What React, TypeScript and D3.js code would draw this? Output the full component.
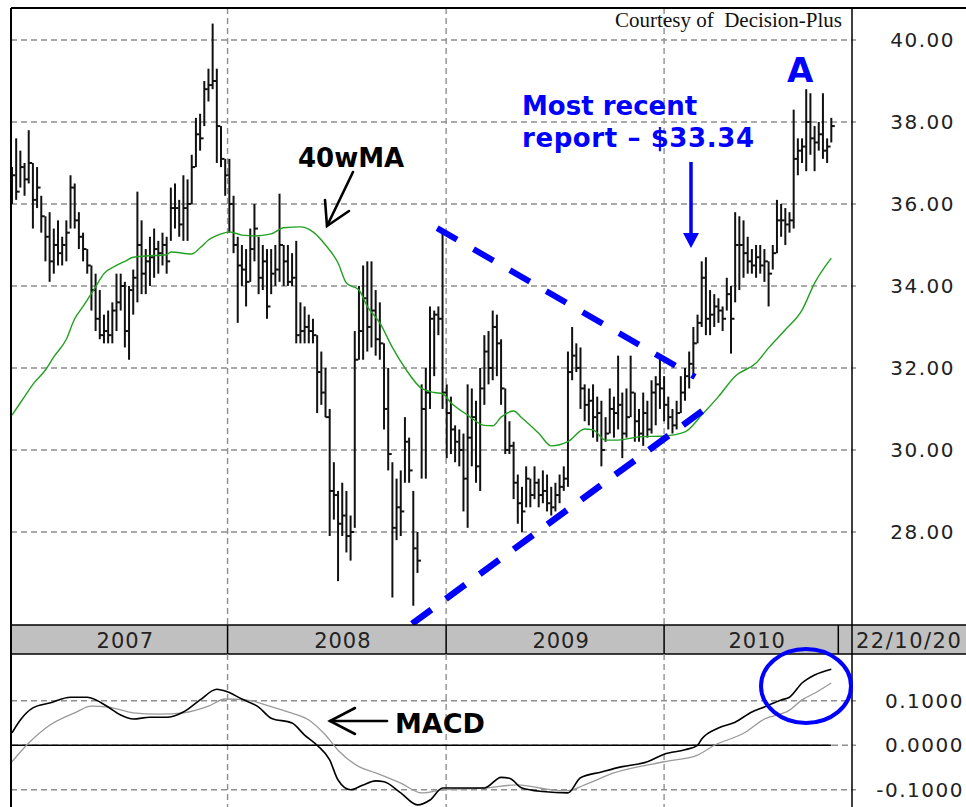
import React from 'react';
import * as d3 from 'd3';

// ---------- DATA ----------
const firstWeek = new Date(2007, 0, 5);
const highs = [
  36.9, 37.6, 37.3, 37.0, 37.8, 37.0, 36.9, 36.2, 35.7, 35.8,
  35.4, 35.6, 35.2, 35.6, 36.7, 36.5, 35.8, 35.3, 34.9, 34.5,
  34.3, 33.9, 33.3, 33.4, 33.6, 34.3, 34.3, 34.1, 34.0, 34.4,
  36.3, 35.6, 34.9, 35.2, 35.4, 35.1, 35.3, 35.2, 36.4, 36.5,
  36.1, 36.7, 36.6, 37.2, 38.1, 38.2, 39.0, 39.3, 40.4, 39.3,
  37.9, 37.1, 37.1, 36.2, 35.2, 35.0, 34.9, 35.4, 36.0, 35.2,
  35.0, 34.9, 34.9, 35.0, 36.25, 35.0, 35.0, 34.8, 35.1, 33.6,
  33.5, 33.3, 33.2, 32.8, 32.4, 32.0, 31.0, 29.7, 29.0, 29.2,
  29.0, 28.4, 32.9, 34.0, 34.5, 34.6, 34.6, 33.9, 33.6, 32.6,
  32.0, 29.7, 29.3, 29.5, 30.8, 30.3, 29.0, 28.0, 31.6, 32.0,
  33.5, 33.4, 33.5, 35.3, 31.6, 31.3, 30.6, 30.5, 30.4, 31.6,
  31.5, 31.2, 32.0, 32.8, 32.9, 33.4, 33.3, 32.7, 31.5, 30.7,
  30.2, 29.4, 29.1, 29.6, 29.3, 29.6, 29.3, 29.5, 29.4, 29.1,
  29.2, 29.4, 29.6, 32.4, 33.0, 32.6, 32.5, 31.6, 31.5, 31.6,
  31.3, 31.2, 30.8, 31.5, 31.3, 32.3, 31.4, 31.5, 32.3, 31.4,
  31.0, 31.4, 31.2, 31.7, 31.8, 32.3, 31.8, 31.3, 31.0, 31.2,
  31.8, 32.0, 32.4, 33.0, 33.3, 34.6, 34.7, 33.9, 33.8, 33.7,
  33.5, 34.2, 34.0, 35.8, 35.7, 35.6, 35.2, 34.9, 35.0, 35.0,
  34.9, 34.6, 35.0, 36.1, 36.0, 35.9, 35.8, 38.3, 37.6, 37.6,
  38.8, 38.7, 37.9, 38.0, 38.7, 37.6, 38.1,
];
const lows = [
  36.0, 36.1, 36.4, 36.2, 36.5, 35.4, 35.9, 35.3, 34.6, 34.1,
  34.3, 34.5, 34.5, 34.6, 35.4, 35.4, 34.9, 34.6, 34.3, 33.4,
  32.9, 32.7, 32.6, 32.6, 32.6, 32.9, 33.4, 32.5, 32.2, 33.3,
  33.6, 33.8, 33.8, 34.0, 34.2, 34.3, 34.5, 34.3, 35.1, 35.4,
  35.2, 35.1, 35.1, 36.0, 36.9, 37.3, 37.9, 38.5, 38.8, 37.0,
  36.9, 36.2, 35.3, 34.8, 33.1, 34.0, 33.5, 34.1, 34.6, 33.8,
  33.9, 33.2, 33.8, 34.0, 34.1, 34.0, 34.0, 34.0, 32.6, 32.6,
  32.6, 32.6, 32.6, 30.9, 31.1, 30.8, 27.9, 28.3, 26.8, 27.9,
  27.5, 27.3, 28.1, 32.2, 32.2, 32.4, 32.5, 32.3, 32.2, 30.5,
  29.5, 26.4, 27.8, 27.9, 29.2, 29.2, 26.2, 27.0, 29.3, 29.3,
  31.0, 31.8, 32.8, 31.0, 29.8, 29.9, 29.7, 29.6, 28.5, 28.1,
  29.6, 29.2, 29.0, 31.1, 31.6, 31.7, 31.8, 31.1, 29.9, 29.9,
  28.8, 28.2, 28.0, 28.6, 28.6, 28.8, 28.6, 28.7, 28.5, 28.4,
  28.5, 28.7, 29.0, 29.1, 31.7, 31.9, 31.0, 30.7, 30.6, 30.3,
  30.2, 29.6, 30.2, 30.4, 30.3, 30.5, 29.8, 30.3, 30.8, 30.2,
  30.2, 30.1, 30.3, 30.4, 30.6, 31.0, 30.7, 30.5, 30.4, 30.5,
  30.9, 31.2, 31.5, 31.8, 32.6, 33.0, 32.8, 32.8, 33.0, 33.1,
  32.9, 33.4, 32.35, 33.6, 33.9, 34.2, 34.3, 34.3, 34.2, 34.3,
  34.1, 33.5, 34.4, 34.8, 35.2, 35.0, 35.3, 35.4, 36.7, 37.0,
  36.8, 37.2, 36.8, 37.3, 37.1, 37.0, 37.5,
];
const closes = [
  36.7, 36.3, 36.9, 36.6, 37.0, 36.1, 36.4, 35.7, 35.2, 34.6,
  35.0, 34.8, 35.0, 35.3, 36.4, 35.6, 35.2, 34.9, 34.5, 33.9,
  33.2, 32.8, 32.9, 32.8, 33.4, 33.6, 34.0, 32.9, 33.9, 34.2,
  35.0, 34.3, 34.6, 34.7, 34.9, 34.8, 35.0, 34.6, 35.9, 35.9,
  35.5, 35.9, 36.0, 36.9, 37.7, 37.6, 38.8, 38.9, 39.0, 37.9,
  37.1, 36.7, 36.0, 35.0, 34.5, 34.4, 34.1, 34.9, 35.4, 34.2,
  34.6, 33.5, 34.3, 34.4, 35.0, 34.6, 34.1, 34.2, 32.8, 32.9,
  33.0, 32.9, 32.8, 31.9, 31.4, 30.8, 29.0, 28.9, 28.2, 28.4,
  27.9, 28.0, 32.2, 32.9, 33.7, 33.0, 33.4, 32.7, 32.6, 31.0,
  29.9, 28.1, 28.6, 28.5, 30.2, 29.5, 27.6, 27.3, 31.0, 31.4,
  33.2, 33.3, 33.2, 31.4, 30.9, 30.5, 30.2, 30.0, 29.3, 30.3,
  30.8, 29.6, 31.5, 32.4, 32.0, 33.0, 32.6, 31.5, 30.0, 30.1,
  29.2, 28.7, 28.5, 29.3, 28.9, 29.2, 28.9, 29.0, 28.7, 28.6,
  28.9, 29.1, 29.3, 31.9, 32.3, 32.0, 31.5, 31.1, 31.2, 30.8,
  30.9, 30.0, 30.4, 31.0, 30.9, 31.1, 30.4, 30.8, 31.4, 30.7,
  30.4, 30.9, 30.5, 31.4, 31.6, 31.5, 31.1, 30.8, 30.6, 30.9,
  31.4, 31.8, 32.1, 32.6, 33.1, 34.2, 33.2, 33.3, 33.5, 33.4,
  33.2, 33.8, 33.2, 35.0, 35.0, 34.8, 34.6, 34.5, 34.7, 34.5,
  34.6, 34.3, 34.8, 35.6, 35.6, 35.5, 35.6, 37.1, 37.3, 37.4,
  38.0, 37.6, 37.5, 37.7, 37.3, 37.4, 37.9,
];

// 40-week moving average, read at these week indices
const maWeeks = [0, 3, 5, 8, 10, 13, 15, 17, 20, 22, 25, 27, 29, 32, 37, 38, 43, 45, 47, 50,
  52, 55, 58, 62, 65, 69, 72, 75, 78, 80, 83, 85, 88, 91, 94, 98, 101, 103, 105, 109,
  113, 115, 117, 120, 122, 126, 129, 133, 137, 139, 142, 145, 150, 156, 161, 165, 169, 173, 178, 181,
  185, 189, 192, 196];
const maValues = [30.85, 31.3, 31.6, 31.95, 32.27, 32.7, 33.2, 33.5, 33.98, 34.3, 34.5, 34.6, 34.7, 34.73, 34.76, 34.83, 34.78, 34.93, 35.12, 35.27,
  35.32, 35.24, 35.22, 35.27, 35.42, 35.44, 35.32, 35.0, 34.56, 34.07, 33.9, 33.5, 33.1, 32.5, 32.0, 31.5, 31.4, 31.37, 31.15, 30.85,
  30.6, 30.59, 30.8, 30.95, 30.78, 30.41, 30.1, 30.2, 30.51, 30.49, 30.24, 30.24, 30.32, 30.34, 30.44, 30.85, 31.3, 31.8, 32.12, 32.49,
  32.93, 33.41, 34.07, 34.68];

// MACD and signal line
const macdWeeks = [0, 2, 5, 9, 14, 18, 23, 26, 29, 33, 37, 41, 45, 49, 51, 55, 59, 62, 67, 70,
  73, 76, 78, 81, 84, 87, 89, 93, 97, 100, 103, 107, 113, 117, 119, 122, 127, 133, 136, 141,
  146, 152, 156, 161, 164, 165, 169, 173, 177, 180, 184, 186, 189, 192, 196];
const macdValues = [0.028, 0.057, 0.084, 0.095, 0.108, 0.108, 0.086, 0.068, 0.059, 0.063, 0.063, 0.075, 0.102, 0.126, 0.122, 0.104, 0.086, 0.061, 0.05, 0.023,
  0.0, -0.033, -0.078, -0.1, -0.089, -0.08, -0.082, -0.107, -0.134, -0.123, -0.096, -0.096, -0.096, -0.072, -0.074, -0.096, -0.104, -0.107, -0.073, -0.06,
  -0.048, -0.037, -0.02, -0.01, 0.0, 0.014, 0.039, 0.052, 0.075, 0.086, 0.102, 0.108, 0.14, 0.158, 0.171];
const signalWeeks = [0, 4, 9, 15, 19, 23, 29, 35, 41, 47, 51, 56, 61, 66, 71, 75, 78, 83, 87, 93,
  98, 103, 113, 121, 129, 133, 137, 144, 156, 164, 168, 175, 180, 186, 189, 192, 196];
const signalValues = [-0.037, 0.005, 0.045, 0.073, 0.088, 0.086, 0.073, 0.07, 0.073, 0.088, 0.104, 0.102, 0.09, 0.075, 0.057, 0.023, -0.011, -0.048, -0.062, -0.085,
  -0.107, -0.1, -0.096, -0.089, -0.1, -0.102, -0.089, -0.062, -0.037, -0.022, 0.0, 0.027, 0.059, 0.079, 0.102, 0.117, 0.14];

// hand-drawn triangle trend lines (week index, price)
const upperTrendWeeks = [101.7, 163.4];
const upperTrendPrices = [35.41, 31.78];
const lowerTrendWeeks = [95.7, 165.1];
const lowerTrendPrices = [25.76, 30.95];

const priceTicks = [28, 30, 32, 34, 36, 38, 40];
const priceTickLabels = ['28.00', '30.00', '32.00', '34.00', '36.00', '38.00', '40.00'];
const macdTicks = [0.1, 0, -0.1];
const macdTickLabels = ['0.1000', '0.0000', '-0.1000'];
const years = [2007, 2008, 2009, 2010];
const lastDateLabel = '22/10/20';

// ---------- LAYOUT ----------
const W = 966, H = 807;
const L = 11, TOP = 8, R = 852;
const mainBottom = 625, barBottom = 654;

const weekDate = (w: number) => new Date(firstWeek.getTime() + w * 7 * 864e5);
const x = d3.scaleTime().domain([firstWeek, weekDate(196)]).range([12, 831.3]);
const xw = (w: number) => x(weekDate(w));
const y = d3.scaleLinear().domain([25.73, 40.78]).range([mainBottom, TOP]);
const ym = d3.scaleLinear().domain([-0.1387, 0.2052]).range([H, barBottom]);

export default function App() {
  const maLine = d3.line<number>().x((_, i) => xw(maWeeks[i])).y((v) => y(v)).curve(d3.curveMonotoneX)(maValues) || '';
  const macdLine = d3.line<number>().x((_, i) => xw(macdWeeks[i])).y((v) => ym(v)).curve(d3.curveMonotoneX)(macdValues) || '';
  const sigLine = d3.line<number>().x((_, i) => xw(signalWeeks[i])).y((v) => ym(v)).curve(d3.curveMonotoneX)(signalValues) || '';

  const yearBounds = years.slice(1).map((yr) => x(new Date(yr, 0, 1)));
  const segEnd = x(weekDate(196)) + 7;
  const segEdges = [L, ...yearBounds, segEnd];

  const grid = { stroke: '#8f8f8f', strokeWidth: 1.4, strokeDasharray: '6,4' };
  const blue = '#0000ff';
  const axisFont = { fontFamily: 'DejaVu Sans, Verdana, sans-serif', fontSize: 20, letterSpacing: 1.5, fill: '#222' };

  return (
    <svg width={W} height={H} style={{ position: 'absolute', left: 0, top: 0, background: '#fff', display: 'block' }}>
      <defs>
        <clipPath id="mainClip"><rect x={L} y={TOP} width={R - L} height={mainBottom - TOP} /></clipPath>
        <clipPath id="macdClip"><rect x={L} y={barBottom} width={R - L} height={H - barBottom} /></clipPath>
      </defs>
      <rect x={0} y={0} width={W} height={H} fill="#fff" />

      {/* main grid */}
      {priceTicks.map((p) => (
        <line key={'hg' + p} x1={L} x2={R + 4} y1={y(p)} y2={y(p)} {...grid} />
      ))}
      {yearBounds.map((bx, i) => (
        <line key={'vg' + i} x1={bx} x2={bx} y1={TOP} y2={mainBottom} {...grid} />
      ))}

      {/* price bars */}
      <g clipPath="url(#mainClip)" stroke="#111" strokeWidth={2}>
        {highs.map((h, i) => {
          const cx = xw(i);
          return (
            <g key={'b' + i}>
              <line x1={cx} x2={cx} y1={y(h)} y2={y(lows[i])} />
              <line x1={cx} x2={cx + 3.5} y1={y(closes[i])} y2={y(closes[i])} />
            </g>
          );
        })}
      </g>

      {/* 40 week MA */}
      <path d={maLine} fill="none" stroke="#22a022" strokeWidth={1.4} clipPath="url(#mainClip)" />

      {/* trend lines */}
      <g clipPath="url(#mainClip)">
        <line x1={xw(upperTrendWeeks[0])} y1={y(upperTrendPrices[0])} x2={xw(upperTrendWeeks[1])} y2={y(upperTrendPrices[1])}
          stroke={blue} strokeWidth={6} strokeDasharray="23,19" />
        <line x1={xw(lowerTrendWeeks[0])} y1={y(lowerTrendPrices[0])} x2={xw(lowerTrendWeeks[1])} y2={y(lowerTrendPrices[1])}
          stroke={blue} strokeWidth={6.5} strokeDasharray="24,18" />
      </g>

      {/* price axis labels */}
      {priceTicks.map((p, i) => (
        <text key={'pl' + p} x={955} y={y(p)} dominantBaseline="central" textAnchor="end" {...axisFont}>{priceTickLabels[i]}</text>
      ))}

      {/* courtesy */}
      <text x={842} y={27} textAnchor="end" fontFamily="Liberation Serif, Times New Roman, serif" fontSize={21} fill="#111" style={{ whiteSpace: 'pre' }}>{'Courtesy of  Decision-Plus'}</text>

      {/* year bar */}
      <rect x={L} y={mainBottom} width={W - L} height={barBottom - mainBottom} fill="#c0c0c0" />
      <line x1={L} x2={W} y1={mainBottom} y2={mainBottom} stroke="#000" strokeWidth={1.5} />
      <line x1={L} x2={W} y1={barBottom} y2={barBottom} stroke="#000" strokeWidth={1.5} />
      {[...yearBounds, segEnd].map((bx, i) => (
        <line key={'ys' + i} x1={bx} x2={bx} y1={mainBottom} y2={barBottom} stroke="#000" strokeWidth={1.5} />
      ))}
      {years.map((yr, i) => (
        <text key={'yl' + yr} x={(segEdges[i] + segEdges[i + 1]) / 2 + 6} y={(mainBottom + barBottom) / 2 + 1}
          textAnchor="middle" dominantBaseline="central" {...axisFont} fontSize={21} letterSpacing={1}>{String(yr)}</text>
      ))}
      <text x={856} y={(mainBottom + barBottom) / 2 + 1} dominantBaseline="central" {...axisFont} fontSize={21} letterSpacing={1.5}>{lastDateLabel}</text>

      {/* MACD panel */}
      {macdTicks.filter((t) => t !== 0).map((t) => (
        <line key={'mg' + t} x1={L} x2={R + 4} y1={ym(t)} y2={ym(t)} {...grid} />
      ))}
      <line x1={xw(0)} x2={R + 4} y1={ym(0)} y2={ym(0)} {...grid} />
      {yearBounds.map((bx, i) => (
        <line key={'mvg' + i} x1={bx} x2={bx} y1={barBottom} y2={H} {...grid} />
      ))}
      <line x1={L} x2={xw(196)} y1={ym(0)} y2={ym(0)} stroke="#000" strokeWidth={1.5} />
      <g clipPath="url(#macdClip)">
        <path d={sigLine} fill="none" stroke="#9a9a9a" strokeWidth={1.3} />
        <path d={macdLine} fill="none" stroke="#000" strokeWidth={1.6} />
      </g>
      {macdTicks.map((t, i) => (
        <text key={'ml' + t} x={964} y={ym(t)} dominantBaseline="central" textAnchor="end" {...axisFont}>{macdTickLabels[i]}</text>
      ))}

      {/* frame */}
      <line x1={L} x2={W} y1={TOP} y2={TOP} stroke="#000" strokeWidth={2} />
      <line x1={L} x2={L} y1={TOP} y2={H} stroke="#000" strokeWidth={2} />
      <line x1={R} x2={R} y1={TOP} y2={H} stroke="#000" strokeWidth={1.5} />

      {/* annotations */}
      <text x={298} y={167} fontFamily="DejaVu Sans, sans-serif" fontWeight="bold" fontSize={26} fill="#000">40wMA</text>
      <g stroke="#000" strokeWidth={2.6} fill="none" strokeLinecap="round">
        <line x1={353} y1={172} x2={327} y2={226} />
        <polyline points="325,200 327,226 349,211" />
      </g>

      <text x={395} y={733} fontFamily="DejaVu Sans, sans-serif" fontWeight="bold" fontSize={27} fill="#000">MACD</text>
      <g stroke="#000" strokeWidth={2.6} fill="none" strokeLinecap="round">
        <line x1={330} y1={721} x2={387} y2={721} />
        <polyline points="355,708 330,721 355,734" />
      </g>

      <text x={522} y={115} fontFamily="DejaVu Sans, sans-serif" fontWeight="bold" fontSize={26} fill={blue}>Most recent</text>
      <text x={522} y={147} fontFamily="DejaVu Sans, sans-serif" fontWeight="bold" fontSize={26} letterSpacing={0.6} fill={blue}>report – $33.34</text>
      <line x1={691} y1={162} x2={691} y2={235} stroke={blue} strokeWidth={3.5} />
      <polygon points="683,233 699,233 691,248" fill={blue} />

      <text x={787} y={82} fontFamily="DejaVu Sans, sans-serif" fontWeight="bold" fontSize={34} fill={blue}>A</text>

      <ellipse cx={806} cy={686} rx={45} ry={37} fill="none" stroke={blue} strokeWidth={4} />
    </svg>
  );
}
